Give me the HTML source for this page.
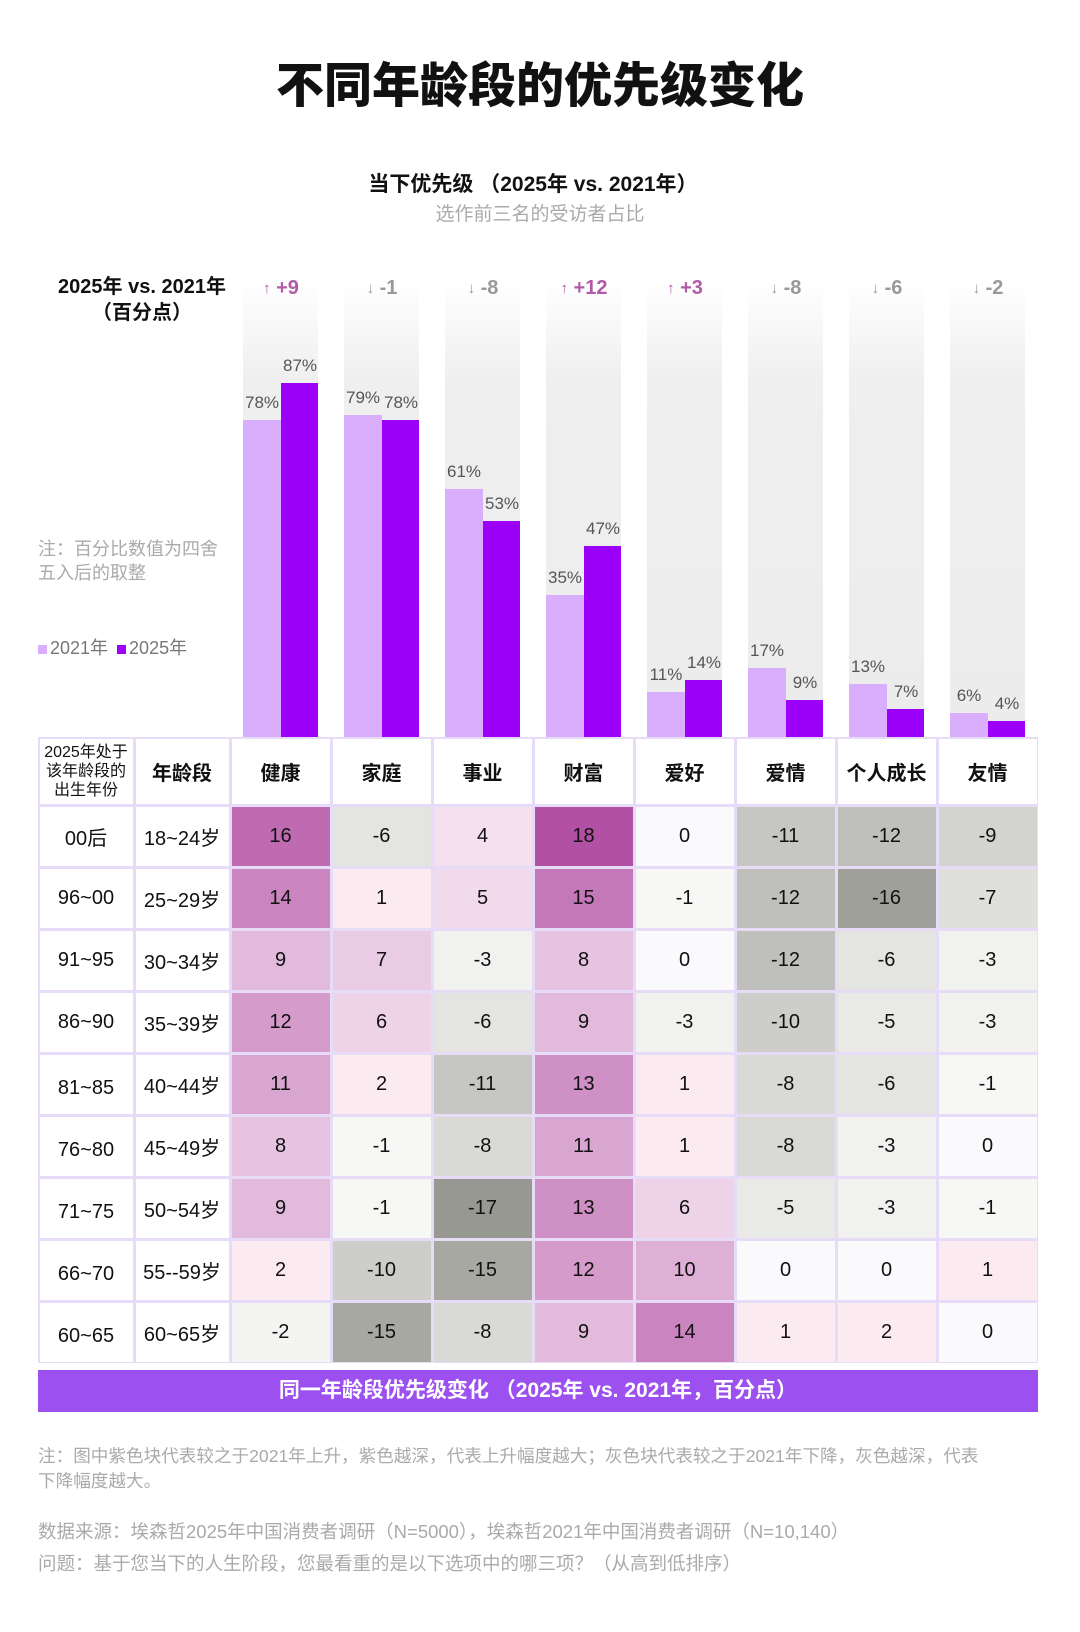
<!DOCTYPE html>
<html><head><meta charset="utf-8">
<style>
*{margin:0;padding:0;box-sizing:border-box}
body{width:1080px;height:1632px;background:#fff;position:relative;overflow:hidden;font-family:"Liberation Sans","Noto Sans CJK SC",sans-serif;color:#111}
.a{position:absolute;white-space:nowrap}
.c{text-align:center}
.g{color:#aaa}
</style></head><body>
<div class="a c" style="left:0;width:1080px;top:58px;font-size:48px;font-weight:900;line-height:58px">不同年龄段的优先级变化</div>
<div class="a c" style="left:0;width:1066px;top:172px;font-size:21px;font-weight:700;line-height:26px">当下优先级 （2025年 vs. 2021年）</div>
<div class="a c g" style="left:0;width:1080px;top:203px;font-size:19px;line-height:24px">选作前三名的受访者占比</div>

<div class="a c" style="left:44px;width:196px;top:274px;font-size:20px;font-weight:700;line-height:26px">2025年 vs. 2021年<br>（百分点）</div>
<div class="a g" style="left:38px;top:537px;font-size:18px;line-height:24px">注：百分比数值为四舍<br>五入后的取整</div>
<div class="a" style="left:38px;top:636px;font-size:18px;color:#777;line-height:24px"><span style="display:inline-block;width:9px;height:9px;background:#d9aefc;margin-right:3px"></span>2021年 <span style="display:inline-block;width:9px;height:9px;background:#9b00f7;margin:0 3px 0 4px"></span>2025年</div>

<div id="chart"></div>
<div id="tbl"></div>

<div class="a c" style="left:38px;width:1000px;top:1370px;height:42px;background:#9d50f0;color:#fff;font-size:21px;font-weight:700;line-height:42px">同一年龄段优先级变化 （2025年 vs. 2021年，百分点）</div>

<div class="a g" style="left:38px;top:1444px;font-size:17.6px;line-height:25px">注：图中紫色块代表较之于2021年上升，紫色越深，代表上升幅度越大；灰色块代表较之于2021年下降，灰色越深，代表<br>下降幅度越大。</div>
<div class="a g" style="left:38px;top:1516px;font-size:18.5px;line-height:32px">数据来源：埃森哲2025年中国消费者调研（N=5000），埃森哲2021年中国消费者调研（N=10,140）<br>问题：基于您当下的人生阶段，您最看重的是以下选项中的哪三项？（从高到低排序）</div>

<script>
var bars=[[78,87,9],[79,78,-1],[61,53,-8],[35,47,12],[11,14,3],[17,9,-8],[13,7,-6],[6,4,-2]];
var base=737,k=4.07,h='';
for(var i=0;i<8;i++){
 var L=230+i*101+13,b=bars[i];
 h+='<div class="a" style="left:'+L+'px;top:280px;width:75px;height:'+(base-280)+'px;background:linear-gradient(#fff,#efefef 22%,#ececec)"></div>';
 var h1=b[0]*k,h2=b[1]*k;
 h+='<div class="a" style="left:'+L+'px;top:'+(base-h1)+'px;width:38px;height:'+h1+'px;background:#d9aefc"></div>';
 h+='<div class="a" style="left:'+(L+38)+'px;top:'+(base-h2)+'px;width:37px;height:'+h2+'px;background:#9b00f7"></div>';
 h+='<div class="a c" style="left:'+(L-6)+'px;width:50px;top:'+(base-h1-27)+'px;font-size:17px;color:#555">'+b[0]+'%</div>';
 h+='<div class="a c" style="left:'+(L+32)+'px;width:50px;top:'+(base-h2-27)+'px;font-size:17px;color:#555">'+b[1]+'%</div>';
 var up=b[2]>0,col=up?'#b05aa8':'#999';
 h+='<div class="a c" style="left:'+(L-12)+'px;width:100px;top:277px;font-size:20px;font-weight:700;color:'+col+'"><span style="font-size:15px;font-weight:400;vertical-align:1px">'+(up?'↑':'↓')+'</span> '+(up?'+':'')+b[2]+'</div>';
}
document.getElementById('chart').innerHTML=h;

var heads=['健康','家庭','事业','财富','爱好','爱情','个人成长','友情'];
var rows=[['00后','18~24岁',16,-6,4,18,0,-11,-12,-9],['96~00','25~29岁',14,1,5,15,-1,-12,-16,-7],['91~95','30~34岁',9,7,-3,8,0,-12,-6,-3],['86~90','35~39岁',12,6,-6,9,-3,-10,-5,-3],['81~85','40~44岁',11,2,-11,13,1,-8,-6,-1],['76~80','45~49岁',8,-1,-8,11,1,-8,-3,0],['71~75','50~54岁',9,-1,-17,13,6,-5,-3,-1],['66~70','55--59岁',2,-10,-15,12,10,0,0,1],['60~65','60~65岁',-2,-15,-8,9,14,1,2,0]];
function mix(a,b,t){var r='#';for(var j=0;j<3;j++){var v=Math.round(a[j]+(b[j]-a[j])*t);r+=('0'+v.toString(16)).slice(-2)}return r}
function color(v){
 if(v==0)return '#fafafd';
 if(v>0){var t=Math.min(v/18,1);if(v<=2)return '#fbeaf0';return mix([250,238,246],[178,80,164],Math.pow(t,1.6));}
 var t=Math.min(-v/17,1);return mix([248,248,246],[152,152,146],Math.pow(t,1.5));
}
var xs=[38,134,230];for(var i=1;i<=8;i++)xs.push(230+i*101);
var t='<div class="a" style="left:38px;top:737px;width:1000px;height:626px;background:#e6dcf8"></div>';
function cell(x0,x1,y0,y1,bg,txt,st){return '<div class="a c" style="left:'+(x0+1.5)+'px;top:'+(y0+1.5)+'px;width:'+(x1-x0-3)+'px;height:'+(y1-y0-3)+'px;background:'+bg+';display:flex;align-items:center;justify-content:center;white-space:normal;'+st+'">'+txt+'</div>'}
t+=cell(38,134,737,805,'#fff','2025年处于<br>该年龄段的<br>出生年份','font-size:16px;line-height:19px');
t+=cell(134,230,737,805,'#fff','年龄段','font-size:20px;font-weight:700');
for(var i=0;i<8;i++)t+=cell(xs[i+2],xs[i+3],737,805,'#fff',heads[i],'font-size:20px;font-weight:700');
for(var r=0;r<9;r++){
 var y0=805+r*62,y1=y0+62,R=rows[r];
 t+=cell(38,134,y0,y1,'#fff',R[0],'font-size:20px;padding-top:'+(r>3?8:0)+'px');
 t+=cell(134,230,y0,y1,'#fff',R[1],'font-size:20px');
 for(var i=0;i<8;i++)t+=cell(xs[i+2],xs[i+3],y0,y1,color(R[i+2]),R[i+2],'font-size:20px');
}
document.getElementById('tbl').innerHTML=t;
</script>
</body></html>
